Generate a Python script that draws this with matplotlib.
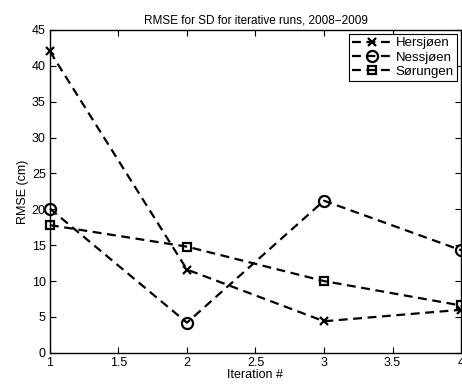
import matplotlib
matplotlib.use('Agg')
import matplotlib.pyplot as plt

iterations = [1, 2, 3, 4]
hersjoen = [42.0, 11.6, 4.4, 6.0]
nessjoen = [20.1, 4.2, 21.2, 14.3]
sorungen = [17.8, 14.8, 10.0, 6.6]

plt.rcParams['font.family'] = ['Liberation Sans', 'DejaVu Sans']
plt.rcParams['font.size'] = 9

fig = plt.figure(figsize=(4.62, 3.89), dpi=100)
ax = fig.add_axes([0.108, 0.093, 0.89, 0.83])

style = dict(color='black', linestyle='--', linewidth=1.6, dashes=(4, 2.5),
             markeredgewidth=1.6, clip_on=False)
ax.plot(iterations, hersjoen, marker='x', markersize=6, label='Hersjøen', **style)
ax.plot(iterations, nessjoen, marker='o', markersize=8, markerfacecolor='none',
        label='Nessjøen', **style)
ax.plot(iterations, sorungen, marker='s', markersize=6, markerfacecolor='none',
        label='Sørungen', **style)

ax.set_xlim(1, 4)
ax.set_ylim(0, 45)
ax.set_xticks([1, 1.5, 2, 2.5, 3, 3.5, 4])
ax.set_xticklabels(['1', '1.5', '2', '2.5', '3', '3.5', '4'])
ax.set_yticks(range(0, 46, 5))
ax.tick_params(direction='in', top=True, right=True, length=4, width=0.8, pad=3)
for s in ax.spines.values():
    s.set_linewidth(1.0)

ax.set_title('RMSE for SD for iterative runs, 2008\u22122009', fontsize=8.5, pad=5)
ax.set_xlabel('Iteration #', labelpad=0)
ax.set_ylabel('RMSE (cm)', labelpad=2)

leg = ax.legend(loc='upper right', fancybox=False, edgecolor='black', framealpha=1,
                handlelength=3.0, borderpad=0.25, labelspacing=0.15, handletextpad=0.3,
                borderaxespad=0.3, fontsize=9.5)
leg.get_frame().set_linewidth(0.8)

fig.savefig('out.png', dpi=100)
